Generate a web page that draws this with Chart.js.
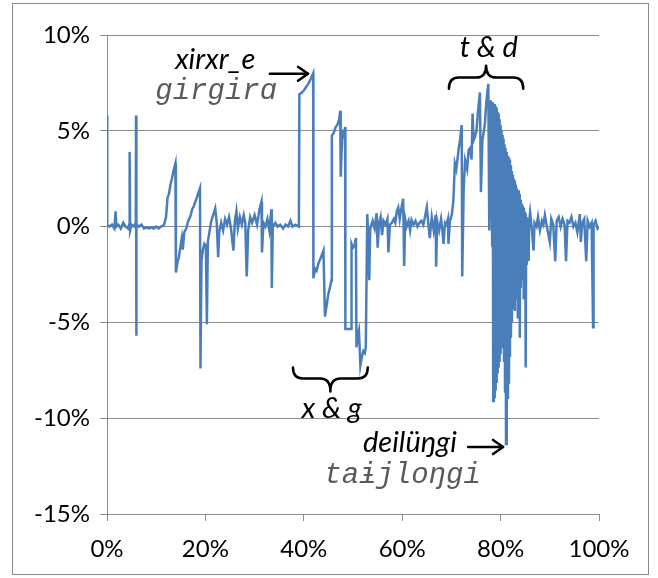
<!DOCTYPE html>
<html>
<head>
<meta charset="utf-8">
<script src="https://cdn.jsdelivr.net/npm/chart.js@4/dist/chart.umd.min.js"></script>
<style>
html,body{margin:0;padding:0;background:#fff;}
#wrap{position:absolute;left:0;top:0;width:658px;height:578px;}
</style>
</head>
<body>
<div id="wrap"><canvas id="c" width="658" height="578"></canvas></div>
<script>
// X position along the word (%), Y deviation (%)
const xTicks = [0, 20, 40, 60, 80, 100];
const yTicks = [-15, -10, -5, 0, 5, 10];
const series = [
 [0,5.8],[0.05,0.1],[0.5,0.0],[1.0,0.1],[1.5,-0.1],[1.75,0.8],[1.9,0.0],[2.3,0.1],[2.8,-0.1],[3.3,0.2],[3.8,0.0],[4.3,-0.1],[4.5,0.1],[4.6,3.9],[4.7,-0.2],[5.0,0.1],[5.5,0.0],[5.85,0.2],[5.9,5.8],[5.95,-5.7],[6.0,0.1],[6.5,0.0],[7.0,0.1],[7.5,-0.1],[8.0,-0.05],[8.5,-0.1],[9.0,-0.05],[9.5,-0.1],[10.0,0.0],[10.5,-0.1],[11.0,0.0],[11.6,0.1],
 [12.0,0.5],[12.3,1.5],[12.6,1.7],[12.9,2.2],[13.2,2.5],[13.5,2.9],[13.9,3.3],[14.0,-2.4],[14.3,-1.9],[14.6,-1.6],[14.9,-1.1],[15.2,-0.6],[15.4,-1.2],[15.7,-0.3],[16.1,-0.1],[16.5,0.3],[16.9,0.5],[17.3,0.9],[17.7,1.1],[18.1,1.4],[18.5,1.7],[18.9,2.0],[19.0,-7.4],[19.2,-1.8],[19.5,-1.2],[19.8,-0.9],[20.1,-1.0],[20.3,-5.1],[20.5,-0.8],[20.8,-0.3],[21.2,0.3],[21.7,0.7],[22.0,0.95],[22.3,0.2],[22.6,-1.6],[22.8,-0.3],[23.2,0.2],[23.6,-0.2],[24.0,0.4],[24.4,0.1],[24.8,0.5],[25.2,-0.1],[25.7,-1.25],[26.0,0.3],[26.3,0.8],[26.6,-0.1],[27.0,0.5],[27.4,0.1],[27.8,0.6],[28.1,0.2],[28.4,-2.6],[28.7,-0.2],[29.1,0.5],[29.5,0.2],[30.0,0.6],[30.5,0.1],[31.0,0.9],[31.4,1.3],[31.5,-1.35],[31.8,0.2],[32.2,0.0],[32.6,0.4],[33.0,-0.2],[33.4,0.9],[33.5,-3.2],[33.7,0.0],[34.2,0.2],[34.7,0.0],[35.2,0.1],[35.8,-0.1],[36.3,0.1],[36.8,0.0],[37.3,0.3],[37.7,0.0],[38.3,0.1],[39.0,0.0],
 [39.1,6.9],[39.6,7.0],[40.0,7.1],[40.5,7.3],[40.9,7.45],[41.4,7.7],[41.9,8.0],[41.95,-2.7],[42.3,-2.2],[42.6,-2.3],[43.0,-1.9],[43.5,-1.6],[44.0,-1.25],[44.3,-4.7],[44.7,-4.0],[45.0,-3.5],[45.3,-3.2],[45.6,-2.8],[45.7,4.75],[46.1,4.9],[46.5,5.2],[46.8,5.3],[47.2,5.6],[47.4,6.05],[47.5,2.6],[47.7,4.0],[47.9,4.9],[48.1,4.8],[48.4,5.2],[48.45,-5.35],[49.0,-5.35],[49.6,-5.35],[49.7,-0.9],[50.0,-1.1],[50.3,-1.0],[50.6,-0.6],[50.7,-6.3],[51.0,-5.6],[51.2,-5.4],[51.5,-7.25],[51.8,-6.8],[52.1,-6.5],[52.4,-6.6],[52.6,-6.3],[52.9,0.65],[53.1,-0.5],[53.3,-2.8],[53.5,-0.1],
 [54.0,0.3],[54.4,-0.1],[54.8,0.7],[55.0,-1.1],[55.3,0.2],[55.6,0.5],[55.9,-0.45],[56.2,0.3],[56.6,0.1],[57.0,0.4],[57.2,-1.35],[57.5,0.1],[57.9,0.2],[58.3,0.4],[58.6,0.2],[58.9,0.8],[59.2,1.0],[59.5,0.4],[59.8,0.9],[60.2,1.45],[60.4,-2.05],[60.6,0.4],[60.9,0.0],[61.3,0.3],[61.6,-0.2],[61.9,0.35],[62.3,0.1],[62.7,0.3],[63.1,0.0],[63.5,0.2],[63.9,0.3],[64.3,0.1],[64.7,0.6],[65.0,1.0],[65.3,0.2],[65.6,-0.6],[66.0,0.5],[66.4,-0.2],[66.8,0.6],[66.9,-2.1],[67.1,0.3],[67.5,-0.2],[67.9,0.4],[68.2,-0.3],[68.4,-0.9],[68.7,0.2],[69.0,0.1],[69.3,0.4],[69.4,-0.9],[69.7,0.3],[70.1,0.65],
 [70.4,1.35],[70.7,3.3],[71.0,3.0],[71.5,4.1],[71.8,4.6],[72.1,5.3],[72.2,-2.6],[72.5,2.0],[72.8,3.45],[73.2,3.0],[73.5,4.0],[73.8,4.1],[74.1,3.5],[74.3,5.9],[74.5,4.5],[74.8,4.7],[75.1,5.0],[75.4,6.0],[75.8,7.0],[76.0,1.8],[76.3,4.5],[76.6,5.0],[76.8,5.35],[77.1,6.5],[77.5,7.45],[77.7,-0.2],[78.0,6.6],
 [78.3,-1.0],[78.4,6.5],[78.5,-9.1],[78.6,6.4],[78.7,-8.9],[78.8,6.4],[78.9,-8.5],[79.0,6.3],[79.1,-8.1],[79.2,6.2],[79.3,-7.6],[79.4,6.0],[79.5,-7.3],[79.6,5.9],[79.7,-7.0],[79.8,5.6],[79.9,-6.6],[80.0,5.3],[80.1,-6.1],[80.2,5.0],[80.3,-5.8],[80.4,4.8],[80.5,-6.3],[80.6,4.6],[80.7,-7.0],[80.8,4.3],[80.9,-8.6],[81.0,4.1],[81.1,-11.35],[81.2,3.9],[81.3,-10.2],[81.4,3.7],[81.5,-9.0],[81.6,3.6],[81.7,-8.2],[81.8,3.5],[81.9,-6.8],[82.0,3.2],[82.1,-5.8],[82.2,2.9],[82.3,-5.0],[82.4,2.7],[82.5,-4.3],[82.6,2.5],[82.7,-4.0],[82.8,2.4],[82.9,-4.4],[83.0,2.2],[83.1,-3.6],[83.2,2.0],[83.3,-3.8],[83.4,1.9],[83.5,-4.8],[83.6,1.9],[83.7,-3.5],[83.8,1.7],[83.9,-5.8],[84.0,1.4],[84.1,-3.2],[84.2,1.2],[84.3,-2.8],[84.4,1.1],[84.5,-2.4],[84.6,1.0],[84.7,-3.8],[84.8,0.8],[84.9,-2.2],[85.0,0.7],[85.1,-7.35],[85.2,0.5],[85.3,-2.0],[85.4,0.4],[85.5,-1.5],[85.6,0.2],[85.7,-1.8],[85.8,0.3],
 [86.0,0.75],[86.3,0.0],[86.7,-1.25],[86.9,0.2],[87.3,0.0],[87.6,0.5],[88.0,-0.2],[88.4,0.3],[88.7,0.1],[89.0,0.6],[89.4,0.0],[90.0,-0.8],[90.3,0.4],[90.7,0.1],[91.1,-1.8],[91.4,0.3],[91.8,0.5],[92.2,0.0],[92.6,0.4],[93.0,0.1],[93.3,-1.8],[93.6,0.3],[94.0,0.2],[94.4,0.5],[94.8,0.0],[95.2,0.2],[95.6,-0.3],[96.1,0.65],[96.3,-0.8],[96.6,0.2],[97.0,0.4],[97.4,-1.8],[97.7,0.3],[98.1,0.0],[98.5,0.2],[98.8,-5.25],[98.9,0.1],[99.3,0.3],[99.7,-0.1],[100,0.0]
];

// Annotations in data units (x %, y %)
const labels = [
 {text:'xirxr_e', x:22.0, y:8.25, font:'italic 29px Lato', color:'#000', align:'center'},
 {text:'girgirɑ', x:22.2, y:6.68, font:'italic 29px "Liberation Mono"', color:'#5a5a5a', align:'center'},
 {text:'t & d', x:77.6, y:8.84, font:'italic 29px Lato', color:'#000', align:'center'},
 {text:'x & g', x:45.7, y:-10.0, font:'italic 29px Lato', color:'#000', align:'center'},
 {text:'deilüŋgi', x:71.1, y:-11.75, font:'italic 29px Lato', color:'#000', align:'right'},
 {text:'taɨjloŋgi', x:76.0, y:-13.4, font:'italic 29px "Liberation Mono"', color:'#5a5a5a', align:'right'}
];
const arrows = [
 {x1:33.1, x2:40.85, y:7.98},
 {x1:73.4, x2:80.5, y:-11.5}
];
const braces = [
 {x1:69.5, x2:84.6, yEnd:7.2, yLine:7.78, yTip:8.4},
 {x1:37.8, x2:53.0, yEnd:-7.36, yLine:-7.93, yTip:-8.6}
];

const annotate = {
  id:'annotate',
  afterDraw(chart){
    const ctx = chart.ctx, xs = chart.scales.x, ys = chart.scales.y;
    ctx.save();
    ctx.strokeStyle = '#8a8a8a'; ctx.lineWidth = 1;
    ctx.strokeRect(12.5, 3.5, 636, 571);
    ctx.textBaseline = 'alphabetic';
    labels.forEach(l => {
      ctx.font = l.font; ctx.fillStyle = l.color; ctx.textAlign = l.align;
      ctx.fillText(l.text, xs.getPixelForValue(l.x), ys.getPixelForValue(l.y));
    });
    ctx.strokeStyle = '#000'; ctx.lineWidth = 2.5; ctx.lineCap = 'round'; ctx.lineJoin='round';
    arrows.forEach(a => {
      const x1 = xs.getPixelForValue(a.x1), x2 = xs.getPixelForValue(a.x2), y = ys.getPixelForValue(a.y);
      ctx.beginPath(); ctx.moveTo(x1, y); ctx.lineTo(x2, y); ctx.stroke();
      ctx.beginPath(); ctx.moveTo(x2-10, y-7); ctx.lineTo(x2, y); ctx.lineTo(x2-10, y+7); ctx.stroke();
    });
    braces.forEach(b => {
      const x1 = xs.getPixelForValue(b.x1), x2 = xs.getPixelForValue(b.x2), m = (x1+x2)/2;
      const ye = ys.getPixelForValue(b.yEnd), yl = ys.getPixelForValue(b.yLine), yt = ys.getPixelForValue(b.yTip);
      const r = 10;
      ctx.beginPath();
      ctx.moveTo(x1, ye);
      ctx.quadraticCurveTo(x1, yl, x1+r, yl);
      ctx.lineTo(m-r, yl);
      ctx.quadraticCurveTo(m, yl, m, yt);
      ctx.quadraticCurveTo(m, yl, m+r, yl);
      ctx.lineTo(x2-r, yl);
      ctx.quadraticCurveTo(x2, yl, x2, ye);
      ctx.stroke();
    });
    ctx.restore();
  }
};

const gridCol = '#8c8c8c';
new Chart(document.getElementById('c'), {
  type:'line',
  data:{datasets:[{
    data: series.map(p => ({x:p[0], y:p[1]})),
    borderColor:'#4a7ebb', borderWidth:2.5, pointRadius:0, tension:0, fill:false
  }]},
  options:{
    responsive:false, animation:false,
    layout:{padding:{top:35, right:59, bottom:0, left:0}},
    plugins:{legend:{display:false}, tooltip:{enabled:false}},
    scales:{
      x:{type:'linear', min:0, max:100,
        afterBuildTicks(s){ s.ticks = xTicks.map(v=>({value:v})); },
        afterFit(s){ s.height = 64; },
        grid:{drawOnChartArea:false, drawTicks:true, tickLength:7, color:gridCol, lineWidth:1},
        border:{color:gridCol, width:1},
        ticks:{callback:v=>v+'%', color:'#000', font:{family:'Lato', size:24}, padding:14, maxRotation:0}
      },
      y:{min:-15, max:10,
        afterBuildTicks(s){ s.ticks = yTicks.map(v=>({value:v})); },
        afterFit(s){ s.width = 107; },
        grid:{drawTicks:true, tickLength:7, color:gridCol, lineWidth:1},
        border:{color:gridCol, width:1},
        ticks:{callback:v=>v+'%', color:'#000', font:{family:'Lato', size:24}, padding:10}
      }
    }
  },
  plugins:[annotate]
});
</script>
</body>
</html>
